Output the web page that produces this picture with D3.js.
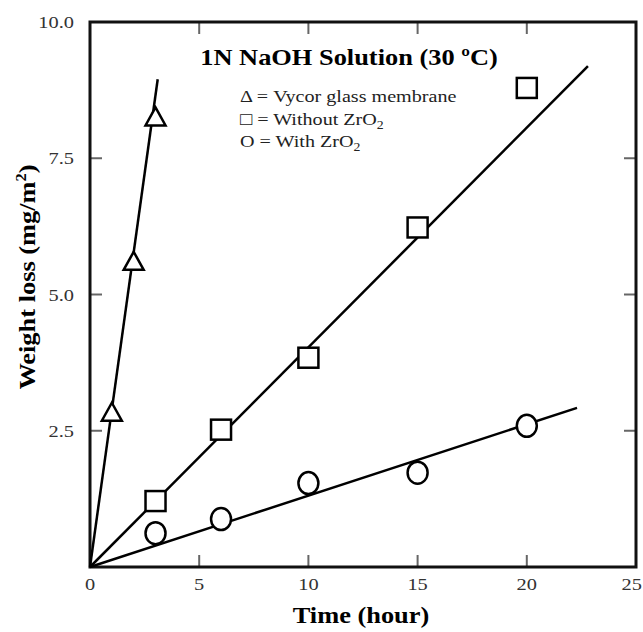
<!DOCTYPE html>
<html>
<head>
<meta charset="utf-8">
<script src="https://cdn.jsdelivr.net/npm/d3@7"></script>
<style>
  body { margin: 0; background: #fff; }
  text { font-family: "Liberation Serif", "Times New Roman", serif; }
</style>
</head>
<body>
<div id="chart"></div>
<script>
// data
var vycorTime = [1, 2, 3];
var vycorLoss = [2.83, 5.6, 8.25];
var withoutTime = [3, 6, 10, 15, 20];
var withoutLoss = [1.21, 2.52, 3.84, 6.23, 8.79];
var withTime = [3, 6, 10, 15, 20];
var withLoss = [0.62, 0.88, 1.54, 1.73, 2.59];
// fitted lines (start at origin, end point)
var fitEnds = [[3.1, 8.95], [22.8, 9.19], [22.3, 2.92]];
var xTicks = [0, 5, 10, 15, 20, 25];
var yTicks = [2.5, 5.0, 7.5, 10.0];

var margins = {top: 22, left: 90, right: 7, bottom: 65};
var svgWidth = 643, svgHeight = 632;
var width = svgWidth - margins.left - margins.right;
var height = svgHeight - margins.top - margins.bottom;

var svg = d3.select("#chart").append("svg")
    .attr("width", svgWidth)
    .attr("height", svgHeight);

// put a text at x,y, stretched horizontally (the scanned figure's type is wide)
function addText(parent, x, y, str, size, opts) {
    opts = opts || {};
    var sx = opts.stretch || 1.2;
    var grp = parent.append("g")
        .attr("transform", `translate(${x},${y}) ${opts.rotate ? "rotate(-90)" : ""} scale(${sx},1)`);
    var t = grp.append("text")
        .attr("text-anchor", opts.anchor || "start")
        .attr("font-size", size)
        .attr("font-weight", opts.bold ? "bold" : "normal")
        .attr("fill", opts.fill || "#000")
        .text(str);
    return t;
}

var g = svg.append("g")
    .attr("transform", `translate(${margins.left},${margins.top})`);

var xScale = d3.scaleLinear().domain([0, 25]).range([0, width]);
var yScale = d3.scaleLinear().domain([0, 10]).range([height, 0]);

// inner ticks on all four sides
var tickLen = 12;
var innerX = xTicks.filter(d => d > 0 && d < 25);
var innerY = yTicks.filter(d => d < 10);
var tickColor = "#666";
innerX.forEach(d => {
    g.append("line").attr("x1", xScale(d)).attr("x2", xScale(d))
        .attr("y1", height).attr("y2", height - tickLen)
        .attr("stroke", tickColor).attr("stroke-width", 2);
    g.append("line").attr("x1", xScale(d)).attr("x2", xScale(d))
        .attr("y1", 0).attr("y2", tickLen)
        .attr("stroke", tickColor).attr("stroke-width", 2);
});
innerY.forEach(d => {
    g.append("line").attr("x1", 0).attr("x2", tickLen)
        .attr("y1", yScale(d)).attr("y2", yScale(d))
        .attr("stroke", tickColor).attr("stroke-width", 2);
    g.append("line").attr("x1", width).attr("x2", width - tickLen)
        .attr("y1", yScale(d)).attr("y2", yScale(d))
        .attr("stroke", tickColor).attr("stroke-width", 2);
});

// frame
g.append("rect")
    .attr("width", width).attr("height", height)
    .attr("fill", "none").attr("stroke", "#111").attr("stroke-width", 3);

// tick labels (last one pulled in so it stays on the page)
xTicks.forEach((d, i) => {
    var last = i === xTicks.length - 1;
    addText(g, last ? xScale(d) + 6 : xScale(d), height + 23, d, 17,
        {anchor: last ? "end" : "middle", fill: "#333"});
});
yTicks.forEach(d => {
    addText(g, -16, yScale(d) + 6, d.toFixed(1), 17, {anchor: "end", fill: "#333"});
});

// fit lines
fitEnds.forEach(e => {
    g.append("line")
        .attr("x1", xScale(0)).attr("y1", yScale(0))
        .attr("x2", xScale(e[0])).attr("y2", yScale(e[1]))
        .attr("stroke", "#000").attr("stroke-width", 2.5);
});

// markers
var mk = {fill: "#fff", stroke: "#000", sw: 2.5};
vycorTime.forEach((t, i) => {
    var cx = xScale(t), cy = yScale(vycorLoss[i]);
    g.append("path")
        .attr("d", `M${cx},${cy - 10} L${cx + 10},${cy + 8} L${cx - 10},${cy + 8} Z`)
        .attr("fill", mk.fill).attr("stroke", mk.stroke).attr("stroke-width", mk.sw);
});
withoutTime.forEach((t, i) => {
    g.append("rect")
        .attr("x", xScale(t) - 10).attr("y", yScale(withoutLoss[i]) - 10)
        .attr("width", 20).attr("height", 20)
        .attr("fill", mk.fill).attr("stroke", mk.stroke).attr("stroke-width", mk.sw);
});
withTime.forEach((t, i) => {
    g.append("ellipse")
        .attr("cx", xScale(t)).attr("cy", yScale(withLoss[i]))
        .attr("rx", 10).attr("ry", 11)
        .attr("fill", mk.fill).attr("stroke", mk.stroke).attr("stroke-width", mk.sw);
});

// title and legend text
addText(svg, 349, 65, "1N NaOH Solution (30 ºC)", 24, {anchor: "middle", bold: true, stretch: 1.1});

var legend = [
    {y: 102, text: "Δ = Vycor glass membrane"},
    {y: 125, text: "□ = Without ZrO", sub: "2"},
    {y: 147, text: "O = With ZrO", sub: "2"}
];
legend.forEach(l => {
    var t = addText(svg, 240, l.y, l.text, 17.5, {fill: "#222", stretch: 1.15});
    if (l.sub) {
        t.append("tspan").attr("font-size", 12).attr("dy", 4).text(l.sub);
    }
});

// axis titles
addText(svg, 361, 623, "Time (hour)", 24, {anchor: "middle", bold: true, stretch: 1.1});

var yl = addText(svg, 35, 277, "Weight loss (mg/m", 24, {anchor: "middle", bold: true, rotate: true, stretch: 1.1});
yl.append("tspan").attr("font-size", 15).attr("dy", -9).text("2");
yl.append("tspan").attr("dy", 9).text(")");
</script>
</body>
</html>
